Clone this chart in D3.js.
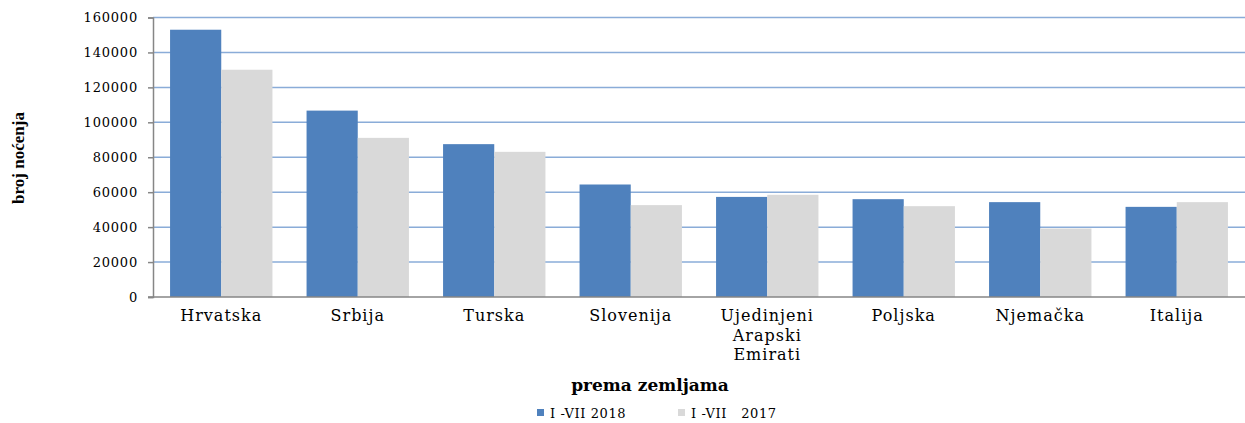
<!DOCTYPE html>
<html>
<head>
<meta charset="utf-8">
<script src="https://cdn.jsdelivr.net/npm/d3@7"></script>
<style>
  body { margin: 0; background: #fff; }
  svg text { fill: #000; }
</style>
</head>
<body>
<div id="vis"></div>
<script>

var width = 1245;
var height = 423;

// data
var countries = ['Hrvatska', 'Srbija', 'Turska', 'Slovenija', 'Ujedinjeni Arapski Emirati', 'Poljska', 'Njemačka', 'Italija'];
var series = ['I -VII 2018', 'I -VII   2017'];
var values2018 = [153000, 106700, 87500, 64400, 57300, 56000, 54300, 51600];
var values2017 = [130100, 91100, 83100, 52600, 58500, 52000, 39200, 54300];
var yTicks = [0, 20000, 40000, 60000, 80000, 100000, 120000, 140000, 160000];

var colors = ['#4F81BD', '#D9D9D9'];

var margin = { left: 153, right: 0, top: 17.5, bottom: 126 };

var svg = d3.select('#vis').append('svg')
    .attr('width', width)
    .attr('height', height);

var x = d3.scaleBand()
    .domain(countries)
    .range([margin.left, width])
    .paddingInner(0.25)
    .paddingOuter(0.125);

var x1 = d3.scaleBand()
    .domain(series)
    .range([0, x.bandwidth()]);

var y = d3.scaleLinear()
    .domain([0, 160000])
    .range([height - margin.bottom, margin.top]);

// gridlines
svg.append('g')
    .selectAll('line')
    .data(yTicks.slice(1))
    .enter().append('line')
    .attr('x1', margin.left)
    .attr('x2', width)
    .attr('y1', function (d) { return y(d); })
    .attr('y2', function (d) { return y(d); })
    .attr('stroke', '#8AACD8')
    .attr('stroke-width', 1.5);

// bars
var rows = countries.map(function (c, i) {
    return { country: c, vals: [values2018[i], values2017[i]] };
});

var groups = svg.append('g').selectAll('g')
    .data(rows)
    .enter().append('g')
    .attr('transform', function (d) { return 'translate(' + x(d.country) + ',0)'; });

groups.selectAll('rect')
    .data(function (d) { return d.vals.map(function (v, j) { return { s: series[j], v: v, j: j }; }); })
    .enter().append('rect')
    .attr('x', function (d) { return x1(d.s); })
    .attr('width', x1.bandwidth())
    .attr('y', function (d) { return y(d.v); })
    .attr('height', function (d) { return y(0) - y(d.v); })
    .attr('fill', function (d) { return colors[d.j]; });

// y axis
var yAxis = svg.append('g')
    .attr('transform', 'translate(' + margin.left + ',0)')
    .call(d3.axisLeft(y).tickValues(yTicks).tickSize(5).tickPadding(10).tickFormat(d3.format('d')));
yAxis.select('.domain').attr('stroke', '#868686').attr('stroke-width', 1.5);
yAxis.selectAll('.tick line').attr('stroke', '#868686').attr('stroke-width', 1.5);
yAxis.selectAll('text')
    .style('font-family', 'DejaVu Serif')
    .style('font-size', '13px')
    .style('letter-spacing', '0.8px');

// x axis
var xAxis = svg.append('g')
    .attr('transform', 'translate(0,' + y(0) + ')')
    .call(d3.axisBottom(x).tickSize(0).tickPadding(13));
xAxis.select('.domain').attr('d', 'M' + (margin.left - 5) + ',0H' + width)
    .attr('stroke', '#868686').attr('stroke-width', 1.5);
xAxis.selectAll('.tick text')
    .style('font-family', 'DejaVu Serif')
    .style('font-size', '16px')
    .style('letter-spacing', '1px')
    .each(function (d) {
        var t = d3.select(this);
        var words = d.split(' ');
        if (words.length > 1) {
            t.text(null);
            words.forEach(function (w, i) {
                t.append('tspan').attr('x', 0).attr('dy', i === 0 ? '0.71em' : '1.2em').text(w);
            });
        }
    });

// axis titles
svg.append('text')
    .attr('transform', 'translate(24,' + 158 + ') rotate(-90)')
    .attr('text-anchor', 'middle')
    .style('font-family', 'Liberation Serif')
    .style('font-weight', 'bold')
    .style('font-size', '17px')
    .text('broj noćenja');

svg.append('text')
    .attr('x', 650)
    .attr('y', 391)
    .attr('text-anchor', 'middle')
    .style('font-family', 'DejaVu Serif')
    .style('font-weight', 'bold')
    .style('font-size', '17px')
    .text('prema zemljama');

// legend
var legendX = [537, 678];
var legend = svg.append('g').selectAll('g')
    .data(series)
    .enter().append('g')
    .attr('transform', function (d, i) { return 'translate(' + legendX[i] + ',409)'; });

legend.append('rect')
    .attr('width', 7)
    .attr('height', 7)
    .attr('fill', function (d, i) { return colors[i]; });

legend.append('text')
    .attr('x', 13)
    .attr('y', 8.5)
    .style('font-family', 'DejaVu Serif')
    .style('font-size', '13px')
    .style('letter-spacing', '0.6px')
    .style('white-space', 'pre')
    .text(function (d) { return d; });

</script>
</body>
</html>
